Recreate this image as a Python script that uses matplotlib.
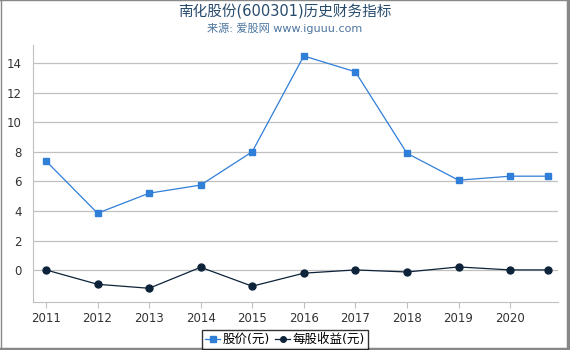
import matplotlib
matplotlib.use("Agg")
from matplotlib import pyplot as plt
from matplotlib.lines import Line2D

plt.rcParams['font.family'] = ['DejaVu Sans', 'Noto Sans CJK SC']

years = [2011, 2012, 2013, 2014, 2015, 2016, 2017, 2018, 2019, 2020, 2020.74]
price = [7.38, 3.85, 5.2, 5.75, 8.0, 14.47, 13.4, 7.9, 6.08, 6.35, 6.35]
eps = [0.02, -0.95, -1.22, 0.2, -1.08, -0.2, 0.02, -0.12, 0.22, 0.02, 0.02]
tick_years = [2011, 2012, 2013, 2014, 2015, 2016, 2017, 2018, 2019, 2020]
y_ticks = [0, 2, 4, 6, 8, 10, 12, 14]

fig = plt.figure(figsize=(5.7, 3.5), dpi=100)
ax = fig.add_axes([0.058, 0.137, 0.921, 0.734])

ax.plot(years, price, color='#2f7ed8', marker='s', markersize=5, linewidth=0.9, label='股价(元)')
ax.plot(years, eps, color='#0d233a', marker='o', markersize=5, linewidth=0.9, label='每股收益(元)')

ax.set_xlim(2010.75, 2020.93)
ax.set_ylim(-2.15, 15.2)
ax.set_xticks(tick_years)
ax.set_xticklabels([str(y) for y in tick_years])
ax.set_yticks(y_ticks)
ax.grid(axis='y', color='#c0c0c0', linewidth=0.9)
ax.set_axisbelow(True)
for s in ['top', 'right']:
    ax.spines[s].set_visible(False)
ax.spines['left'].set_color('#c0c0c0')
ax.spines['bottom'].set_color('#c0c0c0')
ax.tick_params(axis='y', length=0, pad=8, labelsize=8.5, labelcolor='#333333')
ax.tick_params(axis='x', length=4, color='#c0c0c0', labelsize=8.5, labelcolor='#333333')

fig.text(0.5, 0.966, '南化股份(600301)历史财务指标', ha='center', va='center', fontsize=10.5, color='#274b6d')
fig.text(0.5, 0.918, '来源: 爱股网 www.iguuu.com', ha='center', va='center', fontsize=8, color='#4d759e')

leg = fig.legend(loc='lower center', bbox_to_anchor=(0.5, -0.005), ncol=2, fontsize=9,
                 frameon=True, fancybox=False, handlelength=1.2, handletextpad=0.2,
                 columnspacing=0.4, borderpad=0.25, borderaxespad=0.2, markerscale=0.8)
leg.get_frame().set_edgecolor('black')
leg.get_frame().set_linewidth(1.0)

# frame with a heavier right/bottom edge, like a drop shadow
border = '#888888'
fig.add_artist(Line2D([0.001, 0.001], [0, 1], transform=fig.transFigure, color=border, linewidth=1))
fig.add_artist(Line2D([0, 1], [0.999, 0.999], transform=fig.transFigure, color=border, linewidth=1))
fig.add_artist(Line2D([0.996, 0.996], [0, 1], transform=fig.transFigure, color=border, linewidth=2.5))
fig.add_artist(Line2D([0, 1], [0.004, 0.004], transform=fig.transFigure, color=border, linewidth=2.5))

fig.savefig('out.png', dpi=100)
